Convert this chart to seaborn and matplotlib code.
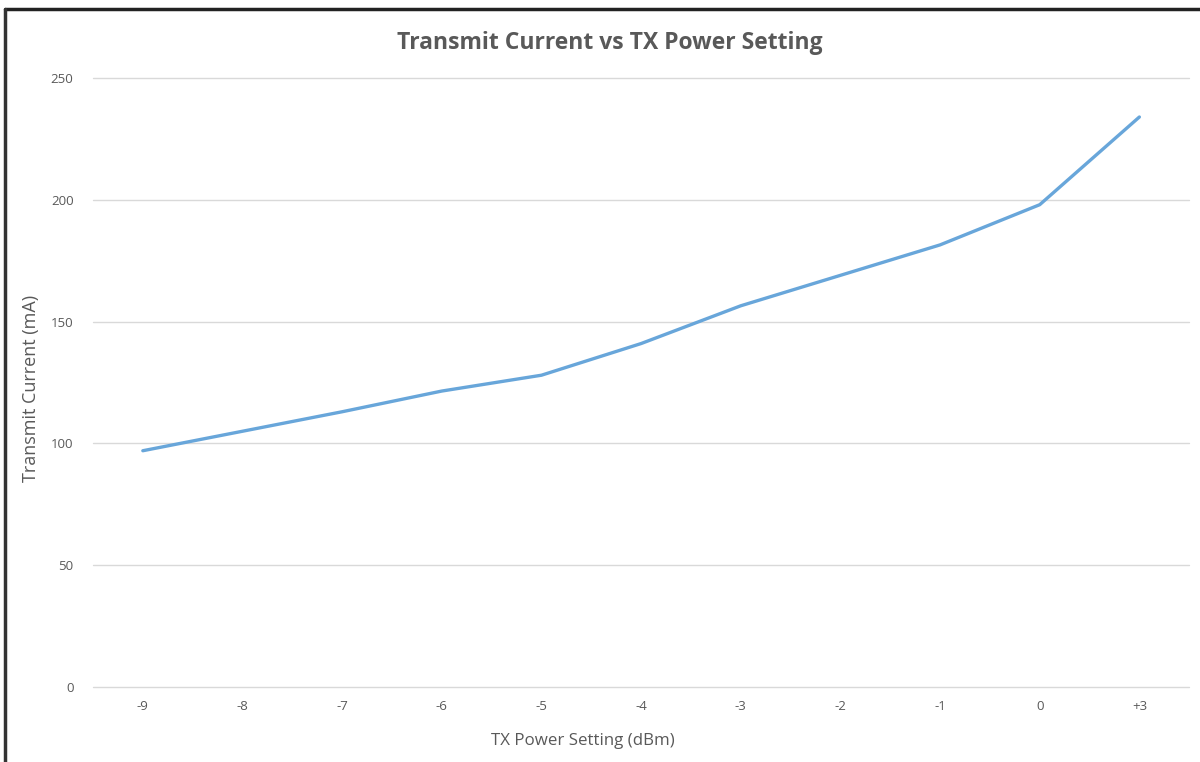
import pandas as pd
import seaborn as sns
import matplotlib.pyplot as plt
from matplotlib.lines import Line2D

# Datos
potencia = ["-9", "-8", "-7", "-6", "-5", "-4", "-3", "-2", "-1", "0", "+3"]
corriente = [97, 105, 113, 121.5, 128, 141, 156.5, 169, 181.5, 198, 234]

df = pd.DataFrame({"potencia": potencia, "corriente": corriente})

sns.set_theme(style="white")
plt.rcParams['font.family'] = ['Open Sans', 'DejaVu Sans']

gris = "#595959"
fig = plt.figure(figsize=(12, 7.62), dpi=100)
ax = fig.add_axes([0.0775, 0.0984, 0.9135, 0.7992])

sns.lineplot(data=df, x="potencia", y="corriente", sort=False,
             color="#68A6DA", linewidth=2.4, ax=ax)

ax.set_xlim(-0.5, len(potencia) - 0.5)
ax.set_ylim(0, 250)
ax.set_yticks([0, 50, 100, 150, 200, 250])
ax.grid(axis="y", color="#D9D9D9", linewidth=1)
for g in ax.get_ygridlines():
    g.set_clip_on(False)
ax.set_axisbelow(True)
sns.despine(ax=ax, left=True, bottom=True)
ax.tick_params(axis="both", length=0, labelsize=9.5, colors=gris)
ax.tick_params(axis="x", pad=9)
ax.tick_params(axis="y", pad=14)

ax.set_xlabel("TX Power Setting (dBm)", fontsize=12.2, color=gris)
ax.xaxis.set_label_coords(0.447, -0.075)
ax.set_ylabel("Transmit Current (mA)", fontsize=13, color=gris)
ax.yaxis.set_label_coords(-0.048, 0.49)
fig.text(0.508, 0.944, "Transmit Current vs TX Power Setting", ha="center",
         va="center", fontsize=16.5, fontweight="bold", color=gris)

# marco exterior (solo arriba e izquierda visibles)
fig.add_artist(Line2D([0.0045, 1], [0.9885, 0.9885], color="#222222", linewidth=2.5))
fig.add_artist(Line2D([0.0045, 0.0045], [0, 0.9885], color="#333333", linewidth=2.5))

plt.savefig("out.png", dpi=100)
plt.clf()
plt.close()
